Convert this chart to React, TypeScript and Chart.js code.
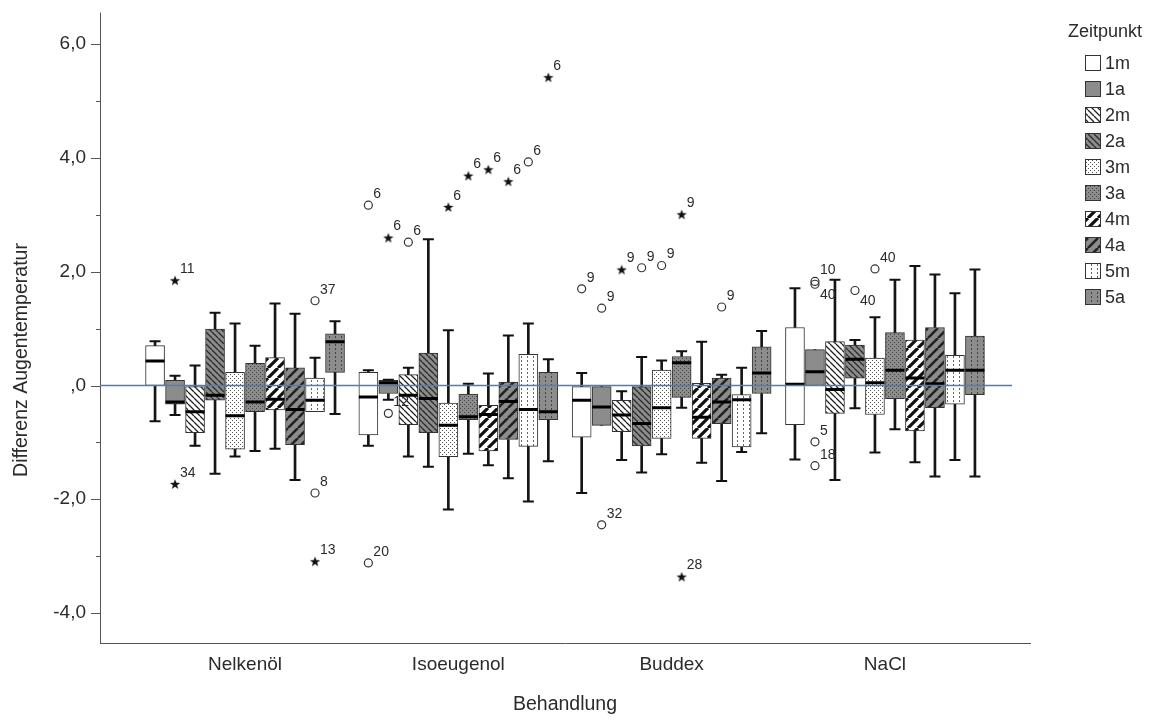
import React, { useEffect, useRef } from 'react';
import { Chart, registerables } from 'chart.js';

Chart.register(...registerables);

// ---------- data ----------
const categories = ['Nelkenöl', 'Isoeugenol', 'Buddex', 'NaCl'];
const zeitpunkte = ['1m', '1a', '2m', '2a', '3m', '3a', '4m', '4a', '5m', '5a'];
const yTickValues = [-4, -2, 0, 2, 4, 6];
const yMinorTickValues = [-3, -1, 1, 3, 5];

// indexed [category][zeitpunkt]
const whiskerLow = [
  [-0.63, -0.52, -1.06, -1.55, -1.25, -1.15, -1.11, -1.66, -0.46, -0.5],
  [-1.06, -0.25, -1.25, -1.43, -2.18, -1.2, -1.4, -1.63, -2.04, -1.33],
  [-1.89, -0.7, -1.31, -1.53, -1.21, -0.39, -1.36, -1.68, -1.17, -0.84],
  [-1.3, 0.0, -1.66, -0.4, -1.18, -0.77, -1.35, -1.6, -1.31, -1.6],
];
const quartile1 = [
  [0.0, -0.33, -0.83, -0.26, -1.12, -0.46, -0.43, -1.04, -0.46, 0.23],
  [-0.87, -0.14, -0.69, -0.83, -1.25, -0.6, -1.15, -0.95, -1.07, -0.6],
  [-0.91, -0.7, -0.81, -1.06, -0.93, -0.21, -0.93, -0.67, -1.08, -0.14],
  [-0.69, 0.0, -0.49, 0.13, -0.51, -0.23, -0.8, -0.39, -0.33, -0.16],
];
const median = [
  [0.43, -0.29, -0.46, -0.17, -0.53, -0.29, -0.24, -0.42, -0.26, 0.77],
  [-0.2, 0.05, -0.17, -0.23, -0.7, -0.55, -0.51, -0.28, -0.42, -0.46],
  [-0.26, -0.38, -0.52, -0.67, -0.39, 0.4, -0.56, -0.29, -0.25, 0.22],
  [0.02, 0.24, -0.07, 0.46, 0.05, 0.27, 0.13, 0.03, 0.27, 0.27],
];
const quartile3 = [
  [0.7, 0.09, -0.02, 0.99, 0.23, 0.39, 0.49, 0.31, 0.13, 0.91],
  [0.23, 0.09, 0.19, 0.57, -0.31, -0.15, -0.35, 0.06, 0.55, 0.23],
  [-0.02, -0.02, -0.26, -0.02, 0.27, 0.51, 0.04, 0.13, -0.16, 0.68],
  [1.02, 0.63, 0.77, 0.71, 0.48, 0.93, 0.8, 1.02, 0.53, 0.87],
];
const whiskerHigh = [
  [0.78, 0.17, 0.35, 1.28, 1.09, 0.7, 1.44, 1.26, 0.49, 1.13],
  [0.27, 0.1, 0.31, 2.57, 0.97, 0.03, 0.21, 0.88, 1.09, 0.46],
  [0.22, -0.02, -0.1, 0.5, 0.44, 0.6, 0.77, 0.19, 0.31, 0.96],
  [1.71, 0.63, 1.86, 0.8, 1.2, 1.86, 2.1, 1.95, 1.62, 2.04],
];

// [category, zeitpunkt, value, case label, marker ('o' outlier, '*' extreme), label side]
const outliers: [number, number, number, string, string, string][] = [
  [0, 1, 1.85, '11', '*', 'up'],
  [0, 1, -1.73, '34', '*', 'up'],
  [0, 8, 1.49, '37', 'o', 'up'],
  [0, 8, -1.89, '8', 'o', 'up'],
  [0, 8, -3.09, '13', '*', 'up'],
  [1, 0, 3.17, '6', 'o', 'up'],
  [1, 0, -3.12, '20', 'o', 'up'],
  [1, 1, 2.6, '6', '*', 'up'],
  [1, 1, -0.49, '12', 'o', 'up'],
  [1, 2, 2.52, '6', 'o', 'up'],
  [1, 4, 3.14, '6', '*', 'up'],
  [1, 5, 3.69, '6', '*', 'up'],
  [1, 6, 3.8, '6', '*', 'up'],
  [1, 7, 3.59, '6', '*', 'up'],
  [1, 8, 3.93, '6', 'o', 'up'],
  [1, 9, 5.42, '6', '*', 'up'],
  [2, 0, 1.7, '9', 'o', 'up'],
  [2, 1, 1.36, '9', 'o', 'up'],
  [2, 1, -2.45, '32', 'o', 'up'],
  [2, 2, 2.04, '9', '*', 'up'],
  [2, 3, 2.07, '9', 'o', 'up'],
  [2, 4, 2.11, '9', 'o', 'up'],
  [2, 5, 3.01, '9', '*', 'up'],
  [2, 5, -3.36, '28', '*', 'up'],
  [2, 7, 1.38, '9', 'o', 'up'],
  [3, 1, 1.83, '10', 'o', 'up'],
  [3, 1, 1.78, '40', 'o', 'down'],
  [3, 1, -0.99, '5', 'o', 'up'],
  [3, 1, -1.41, '18', 'o', 'up'],
  [3, 3, 1.67, '40', 'o', 'down'],
  [3, 4, 2.05, '40', 'o', 'up'],
];

// ---------- styling / layout ----------
const FONT = '"Liberation Sans", Arial, sans-serif';
const TEXT = '#2b2b2b';
const AXIS = '#555555';
const GRAY = '#8c8c8c';
const BOX_STEP = 0.09375; // offset between boxes of one group, in category units
const X_MIN = -0.68;
const X_MAX = 3.68;
const Y_MIN = -4.527;
const Y_MAX = 6.417;
const REF_LINE_END = 3.596;

const xOf = (g: number, k: number) => g + (k - 4.5) * BOX_STEP;
const fmt = (v: number) => (v === 0 ? ',0' : v.toFixed(1).replace('.', ','));

function tile(w: number, h: number, bg: string, draw: (t: CanvasRenderingContext2D) => void) {
  const c = document.createElement('canvas');
  c.width = w;
  c.height = h;
  const t = c.getContext('2d')!;
  t.fillStyle = bg;
  t.fillRect(0, 0, w, h);
  draw(t);
  return c;
}

function diag(t: CanvasRenderingContext2D, s: number, forward: boolean, color: string, lw: number) {
  t.strokeStyle = color;
  t.lineWidth = lw;
  t.beginPath();
  for (let o = -s; o <= s; o += s) {
    if (forward) {
      t.moveTo(o, s);
      t.lineTo(o + s, 0);
    } else {
      t.moveTo(o, 0);
      t.lineTo(o + s, s);
    }
  }
  t.stroke();
}

function makeFills(ctx: CanvasRenderingContext2D): (string | CanvasPattern)[] {
  const pat = (c: HTMLCanvasElement) => ctx.createPattern(c, 'repeat')!;
  return [
    '#ffffff',
    GRAY,
    pat(tile(6, 6, '#ffffff', (t) => diag(t, 6, false, '#222', 1.3))),
    pat(tile(6, 6, GRAY, (t) => diag(t, 6, false, '#2a2a2a', 1.3))),
    pat(tile(4, 4, '#ffffff', (t) => { t.fillStyle = '#555'; t.fillRect(0, 0, 1, 1); t.fillRect(2, 2, 1, 1); })),
    pat(tile(4, 4, GRAY, (t) => { t.fillStyle = '#444'; t.fillRect(0, 0, 1, 1); t.fillRect(2, 2, 1, 1); })),
    pat(tile(10, 10, '#ffffff', (t) => diag(t, 10, true, '#111', 3.2))),
    pat(tile(10, 10, GRAY, (t) => diag(t, 10, true, '#222', 2.6))),
    pat(tile(6, 4, '#ffffff', (t) => { t.fillStyle = '#666'; t.fillRect(3, 0, 1, 2); })),
    pat(tile(6, 4, GRAY, (t) => { t.fillStyle = '#444'; t.fillRect(3, 0, 1, 2); })),
  ];
}

function makeStar() {
  const s = 12;
  const c = document.createElement('canvas');
  c.width = s;
  c.height = s;
  const t = c.getContext('2d')!;
  t.fillStyle = '#111';
  t.beginPath();
  for (let i = 0; i < 10; i++) {
    const r = i % 2 ? 2.2 : 5.4;
    const a = -Math.PI / 2 + (i * Math.PI) / 5;
    const px = s / 2 + r * Math.cos(a);
    const py = s / 2 + 0.6 + r * Math.sin(a);
    if (i === 0) t.moveTo(px, py);
    else t.lineTo(px, py);
  }
  t.closePath();
  t.fill();
  return c;
}

export default function App() {
  const ref = useRef<HTMLCanvasElement>(null);

  useEffect(() => {
    const canvas = ref.current!;
    const ctx = canvas.getContext('2d')!;
    const fills = makeFills(ctx);
    const star = makeStar();

    const boxDatasets = zeitpunkte.map((tp, k) => ({
      type: 'bar' as const,
      label: tp,
      data: categories.map((_, g) => ({ x: xOf(g, k), y: [quartile1[g][k], quartile3[g][k]] })),
      backgroundColor: fills[k],
      borderColor: '#333',
      borderWidth: 1,
      borderSkipped: false,
      barThickness: 19,
      grouped: false,
      order: 3,
    }));

    const allIdx: [number, number][] = [];
    categories.forEach((_, g) => zeitpunkte.forEach((__, k) => allIdx.push([g, k])));

    const whiskerStem = (lower: boolean) => ({
      type: 'bar' as const,
      label: lower ? 'whiskerLow' : 'whiskerHigh',
      data: allIdx.map(([g, k]) => ({
        x: xOf(g, k),
        y: lower ? [whiskerLow[g][k], quartile1[g][k]] : [quartile3[g][k], whiskerHigh[g][k]],
      })),
      backgroundColor: '#151515',
      borderWidth: 0,
      barThickness: 2,
      grouped: false,
      order: 4,
    });

    const caps: { x: number; y: number }[] = [];
    allIdx.forEach(([g, k]) => {
      if (whiskerLow[g][k] < quartile1[g][k] - 0.001) caps.push({ x: xOf(g, k), y: whiskerLow[g][k] });
      if (whiskerHigh[g][k] > quartile3[g][k] + 0.001) caps.push({ x: xOf(g, k), y: whiskerHigh[g][k] });
    });

    const labelPlugin = {
      id: 'spssDecor',
      afterDatasetsDraw(chart: any) {
        const c = chart.ctx;
        const xs = chart.scales.x;
        const ys = chart.scales.y;
        c.save();
        c.font = `14px ${FONT}`;
        c.fillStyle = TEXT;
        c.textAlign = 'left';
        c.textBaseline = 'middle';
        outliers.forEach(([g, k, v, lab, , side]) => {
          const px = xs.getPixelForValue(xOf(g, k));
          const py = ys.getPixelForValue(v);
          c.fillText(lab, px + 5, side === 'up' ? py - 11 : py + 11);
        });
        c.restore();
      },
      afterDraw(chart: any) {
        const c = chart.ctx;
        const ys = chart.scales.y;
        const area = chart.chartArea;
        c.save();
        // y axis line extends a little above the plot area, plus tick marks
        c.strokeStyle = AXIS;
        c.lineWidth = 1;
        c.beginPath();
        const ax = Math.round(area.left) + 0.5;
        c.moveTo(ax, area.top - 8);
        c.lineTo(ax, area.top);
        yTickValues.forEach((v) => {
          const py = Math.round(ys.getPixelForValue(v)) + 0.5;
          c.moveTo(area.left - 9, py);
          c.lineTo(area.left, py);
        });
        yMinorTickValues.forEach((v) => {
          const py = Math.round(ys.getPixelForValue(v)) + 0.5;
          c.moveTo(area.left - 4, py);
          c.lineTo(area.left, py);
        });
        c.stroke();

        // axis titles
        c.fillStyle = TEXT;
        c.font = `19.5px ${FONT}`;
        c.textAlign = 'center';
        c.textBaseline = 'middle';
        c.fillText('Behandlung', (area.left + area.right) / 2, 697);
        c.save();
        c.translate(14, 352);
        c.rotate(-Math.PI / 2);
        c.fillText('Differenz Augentemperatur', 0, 0);
        c.restore();

        // legend
        c.textAlign = 'left';
        c.font = `18px ${FONT}`;
        c.fillText('Zeitpunkt', 1060, 24);
        zeitpunkte.forEach((tp, k) => {
          const cy = 55 + 26 * k;
          c.fillStyle = fills[k] as any;
          c.fillRect(1077, cy - 8, 16, 16);
          c.strokeStyle = '#333';
          c.lineWidth = 1;
          c.strokeRect(1077.5, cy - 7.5, 15, 15);
          c.fillStyle = TEXT;
          c.fillText(tp, 1097, cy + 1);
        });
        c.restore();
      },
    };

    const chart = new Chart(canvas, {
      type: 'bar',
      data: {
        datasets: [
          {
            type: 'line',
            label: 'Referenz',
            data: [{ x: X_MIN, y: 0 }, { x: REF_LINE_END, y: 0 }],
            borderColor: '#4a7ec0',
            borderWidth: 1.6,
            pointRadius: 0,
            order: 0,
          } as any,
          {
            type: 'scatter',
            label: 'Median',
            data: allIdx.map(([g, k]) => ({ x: xOf(g, k), y: median[g][k] })),
            pointStyle: 'line',
            pointRadius: 9.5,
            borderColor: '#000',
            borderWidth: 3,
            order: 1,
          } as any,
          {
            type: 'scatter',
            label: 'Ausreißer',
            data: outliers.filter((o) => o[4] === 'o').map(([g, k, v]) => ({ x: xOf(g, k), y: v })),
            pointStyle: 'circle',
            pointRadius: 4,
            borderColor: '#333',
            backgroundColor: 'rgba(255,255,255,0)',
            borderWidth: 1.2,
            order: 1,
          } as any,
          {
            type: 'scatter',
            label: 'Extremwerte',
            data: outliers.filter((o) => o[4] === '*').map(([g, k, v]) => ({ x: xOf(g, k), y: v })),
            pointStyle: star,
            pointRadius: 5,
            order: 1,
          } as any,
          {
            type: 'scatter',
            label: 'Whisker caps',
            data: caps,
            pointStyle: 'line',
            pointRadius: 5.5,
            borderColor: '#111',
            borderWidth: 2,
            order: 2,
          } as any,
          ...(boxDatasets as any[]),
          whiskerStem(true) as any,
          whiskerStem(false) as any,
        ],
      },
      options: {
        animation: false,
        responsive: true,
        maintainAspectRatio: false,
        events: [],
        layout: { padding: { top: 4, right: 127, bottom: 0, left: 0 } },
        plugins: {
          legend: { display: false },
          tooltip: { enabled: false },
        },
        scales: {
          x: {
            type: 'linear',
            min: X_MIN,
            max: X_MAX,
            offset: false,
            grid: { display: false, drawTicks: false, offset: false },
            border: { display: true, color: AXIS, width: 1 },
            afterBuildTicks: (s: any) => {
              s.ticks = categories.map((_, i) => ({ value: i }));
            },
            afterFit: (s: any) => {
              s.height = 77;
              s.paddingLeft = 0;
              s.paddingRight = 0;
            },
            ticks: {
              callback: (v: any) => categories[Math.round(Number(v))] ?? '',
              font: { family: FONT, size: 19 },
              color: TEXT,
              padding: 10,
              autoSkip: false,
              maxRotation: 0,
            },
          },
          y: {
            type: 'linear',
            min: Y_MIN,
            max: Y_MAX,
            grid: { display: false, drawTicks: false },
            border: { display: true, color: AXIS, width: 1 },
            afterBuildTicks: (s: any) => {
              s.ticks = yTickValues.map((v) => ({ value: v }));
            },
            afterFit: (s: any) => {
              s.width = 92;
              s.paddingTop = 0;
              s.paddingBottom = 0;
            },
            ticks: {
              callback: (v: any) => fmt(Number(v)),
              font: { family: FONT, size: 19 },
              color: TEXT,
              padding: 14,
            },
          },
        },
      } as any,
      plugins: [labelPlugin],
    });

    return () => chart.destroy();
  }, []);

  return (
    <div style={{ position: 'relative', width: 1149, height: 712 }}>
      <canvas ref={ref} />
    </div>
  );
}
